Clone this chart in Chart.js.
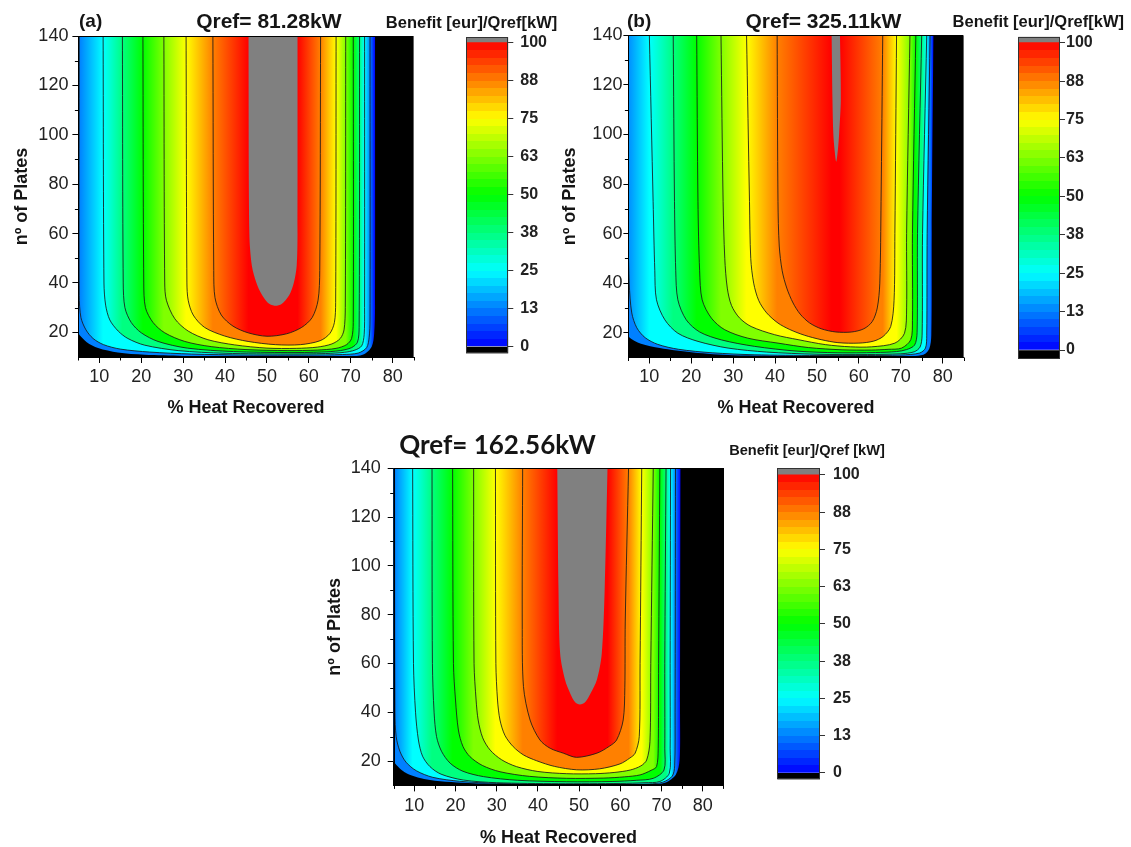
<!DOCTYPE html>
<html><head><meta charset="utf-8">
<script src="https://cdn.jsdelivr.net/npm/chart.js@4.4.0/dist/chart.umd.min.js"></script>
<style>
html,body{margin:0;padding:0;background:#fff;}
body{width:1131px;height:847px;overflow:hidden;position:relative;font-family:"Liberation Sans",Arial,sans-serif;}
canvas{position:absolute;}
.t{position:absolute;font-weight:bold;color:#151515;white-space:nowrap;line-height:1;}
.c{transform:translateX(-50%);}
</style></head><body>
<canvas id="ca" width="420" height="420" style="left:0;top:0"></canvas>
<canvas id="cb" width="420" height="420" style="left:550px;top:0"></canvas>
<canvas id="cc" width="420" height="430" style="left:315px;top:427px"></canvas>
<canvas id="ka" width="120" height="370" style="left:456px;top:0"></canvas>
<canvas id="kb" width="123" height="370" style="left:1008px;top:0"></canvas>
<canvas id="kc" width="120" height="370" style="left:767px;top:427px"></canvas>
<div class="t" style="left:79px;top:10.7px;font-size:19px">(a)</div>
<div class="t c" style="left:268.8px;top:9.7px;font-size:21px">Qref= 81.28kW</div>
<div class="t c" style="left:471.5px;top:13.6px;font-size:16.5px">Benefit [eur]/Qref[kW]</div>
<div class="t" style="left:627px;top:10.7px;font-size:19px">(b)</div>
<div class="t c" style="left:823.4px;top:9.7px;font-size:21px">Qref= 325.11kW</div>
<div class="t c" style="left:1038.3px;top:12.5px;font-size:16.5px">Benefit [eur]/Qref[kW]</div>
<div class="t c" style="left:497.5px;top:431.3px;font-size:26px;font-family:Lato,'Liberation Sans',sans-serif">Qref= 162.56kW</div>
<div class="t c" style="left:807px;top:442.8px;font-size:14.6px">Benefit [eur]/Qref [kW]</div>
<script>
// ---------------- data ----------------
const LEVELS = [0, 12.5, 25, 37.5, 50, 62.5, 75, 87.5, 100];
const COLORBAR_TICKS = [0, 12.5, 25, 37.5, 50, 62.5, 75, 87.5, 100];
const X_RANGE = [5, 85];
const Y_RANGE = [10, 140];
const X_LABEL = '% Heat Recovered';
const Y_LABEL = 'nº of Plates';

// contour polygons [% heat recovered, nº of plates], one per level of LEVELS
const contourA = [
 [[1,140],[1,30],[5,19.5],[7,16],[9.7,13.6],[14.4,11.8],[20.8,10.9],[30,10.45],[45,10.2],[60,10.2],[69.8,10.3],[73,11],[75,14.2],[75.6,19.6],[75.8,30],[75.8,140]],
 [[5.2,140],[5.2,35],[5.6,26],[6.8,21],[8.5,17.5],[11,15],[15,13.2],[22,12],[32,11.2],[45,10.8],[60,10.8],[68,11],[71.8,11.6],[73.8,13.8],[74.4,18],[74.6,25],[74.6,140]],
 [[10.9,140],[11.1,40],[11.5,31],[12.5,25],[14.5,20.5],[16.8,17.5],[20.8,14.8],[28.8,12.6],[40,11.5],[55,11.2],[64,11.4],[68.5,11.9],[71,12.8],[72.6,14.5],[73.2,19],[73.3,30],[73.3,140]],
 [[15.5,140],[15.7,40],[16.1,30],[17.6,24],[20,19.8],[24,16.3],[31,13.6],[42,12.2],[55,11.8],[63,12],[67.5,12.6],[70.2,13.8],[71.6,16],[72,22],[72.1,140]],
 [[20.4,140],[20.6,40],[21,30],[22.8,24],[25.6,19.8],[30.4,16.3],[36.7,14.2],[45,13],[55,12.6],[62,12.8],[66.5,13.5],[69,15],[70.2,17.5],[70.6,24],[70.6,140]],
 [[25.4,140],[25.6,40],[26,33],[28,25.5],[31.2,20.5],[35.9,17],[42.3,14.9],[50,13.6],[57,13.5],[62,14],[65.5,15.3],[67.5,17.5],[68.4,21],[68.7,30],[68.8,140]],
 [[30.7,140],[30.9,40],[31.2,33],[32.4,27],[35.1,22],[39.9,18.5],[45.5,16.3],[52,15],[58,15],[62.7,16.6],[65,19.5],[66.1,24],[66.4,32],[66.5,140]],
 [[37.1,140],[37.3,45],[37.6,34],[39.1,27],[41.9,22.5],[45.5,19.8],[50,18.4],[54.7,19.4],[58.3,22],[60.8,26],[62.2,33],[62.6,45],[62.8,140]],
 [[45.6,140],[45.8,60],[46.4,47],[47.5,40],[48.7,35.5],[50.2,32],[51.8,30.8],[53.5,31.5],[55.3,35],[56.4,40],[57.1,47],[57.3,60],[57.3,140]]
];
const contourB = [
 [[0,140],[0,30],[5,18.5],[8,15.5],[12.5,13.8],[20.5,12],[30,10.9],[45,10.45],[60,10.4],[70,10.5],[75.4,11.1],[76.8,13.5],[77.3,19],[77.4,60],[77.8,140]],
 [[4.4,140],[4.8,73],[5.2,40],[5.8,28],[7,22],[9,18],[12,15.3],[17,13.3],[25,11.9],[35,11.1],[50,10.8],[62,10.8],[70,11],[74.5,11.8],[75.9,13.8],[76.2,19],[76.3,60],[77,140]],
 [[10,140],[10.9,73],[11.3,45],[11.7,33.3],[13.7,25.2],[16.8,19.8],[21.6,16.5],[28.8,13.8],[38,12.2],[50,11.3],[62,11.2],[70,11.5],[73.2,12.3],[74.6,14.2],[75.1,19],[75.2,60],[76.2,140]],
 [[15.7,140],[16,73],[16.3,45],[16.8,33.3],[18.8,25.2],[22,20.3],[27.2,17.1],[35.1,14.5],[45,12.6],[55,11.9],[64,12],[69,12.4],[71.4,13.2],[73.3,15],[73.9,20],[74,60],[75,140]],
 [[21.3,140],[21.6,73],[22,45],[22.6,33.3],[24.8,25.9],[28,21.2],[33.5,17.8],[40.7,15.8],[48,14],[56,13.1],[63,13],[67,13.3],[70.2,13.8],[72.4,17.2],[72.8,25],[72.8,60],[73.6,140]],
 [[27.1,140],[27.6,73],[28,50],[28.6,38],[29.6,31],[31.5,26],[34.3,22.5],[39.9,19.2],[45.5,17.2],[52,15.2],[58,14.3],[63,14.3],[68.6,15.8],[70.9,19.8],[71.4,30],[71.4,60],[72.2,140]],
 [[33.2,140],[33.9,73],[34.2,50],[34.9,40],[36.1,33],[38,28],[40.7,23.9],[43.5,21.3],[47,19],[51,17.2],[55,16],[60,15.8],[63.5,16.6],[65.8,18.5],[67.6,22.5],[68.4,33],[68.6,60],[69,140]],
 [[40.5,140],[40.7,73],[41,55],[41.7,45],[42.8,38],[44.3,32],[46,27.5],[48.2,24],[51,21.6],[54.5,20.3],[58.3,20.3],[61.2,21.6],[63.2,24.5],[64.4,30],[65,40],[65.3,73],[65.7,140]],
 [[53.5,140],[53.7,114],[53.9,100.5],[54.2,93.8],[54.6,89],[55,93.8],[55.3,100.5],[55.7,114],[55.5,140]]
];
const contourC = [
 [[1,140],[1,30],[5,19.7],[8.1,15],[13.8,12.2],[24.3,10.9],[35,10.4],[50,10.2],[62,10.25],[67.2,10.35],[71,11.2],[73.5,14.5],[74.4,20.4],[74.5,40],[74.6,140]],
 [[5.2,140],[5.3,40],[5.6,30],[6.5,24],[8,19.5],[10.5,16],[14.5,13.3],[21,11.7],[30,10.8],[45,10.45],[60,10.5],[67,10.6],[70.3,11.3],[72.6,13.8],[73.2,18],[73.3,40],[73.4,140]],
 [[9.6,140],[9.8,60],[10.3,40],[11,28.6],[12,22],[13.8,17.7],[16.5,14.6],[21.9,12.2],[30,11.1],[45,10.7],[60,10.8],[66,11.1],[69.6,11.6],[71.9,15],[72.1,25],[72.1,60],[72.2,140]],
 [[14.3,140],[14.4,60],[14.8,40],[15.4,30],[16.6,24],[18.7,19.1],[21.8,15.8],[26.8,13.6],[35,12.1],[47,11.5],[58,11.6],[64,12.1],[68,12.9],[70.6,16.3],[70.8,25],[70.8,60],[71.1,140]],
 [[19.3,140],[19.5,60],[20,45],[20.7,32.7],[21.8,26],[23.5,21.8],[26.5,18.2],[30.8,15.6],[38,13.7],[47,12.9],[56,13],[61,13.5],[64.8,14.3],[67.5,16.2],[68.8,17.7],[69.2,25],[69.3,60],[69.6,140]],
 [[24.4,140],[24.5,60],[25,45],[25.5,36.8],[26.6,29.5],[28.4,24.5],[31.2,20.5],[34.8,17.7],[40,15.7],[47,14.8],[54,14.8],[58.5,15.3],[62.4,16.3],[65,18],[66.4,20.4],[67.2,28],[67.4,60],[68,140]],
 [[29.7,140],[29.8,60],[30.2,45],[30.8,36.8],[32,30.5],[34,25.9],[36.5,22.5],[39.7,20.1],[44,17.8],[49.4,16.4],[55,16.8],[59.9,18.8],[62.3,21.2],[63.6,23.2],[64.6,30],[64.8,60],[65.2,140]],
 [[36.3,140],[36.2,77],[36.5,50.5],[38.1,36.8],[40.5,28.6],[43,25.2],[46.2,23.2],[49.4,21.5],[54.3,23.2],[57.3,26],[59.1,28.6],[60.7,36.8],[61.1,50],[61.2,77],[62,140]],
 [[44.7,140],[45,90],[45.4,64.1],[46.6,53.2],[47.9,47.5],[49,44.2],[50.2,43.2],[51.5,44.2],[52.7,47.5],[54.3,53.2],[55.5,64.1],[56.2,90],[56.9,140]]
];

// ---------------- style ----------------
const FONT = "'Liberation Sans', Arial, sans-serif";
Chart.defaults.font.family = FONT;
const RAINBOW = [[0,[0,0,255]],[25,[0,255,255]],[50,[0,255,0]],[75,[255,255,0]],[100,[255,0,0]]];
const OVER_COLOR = '#808080', UNDER_COLOR = '#000000';
function colorAt(v){
  v = Math.max(0, Math.min(100, v));
  for (let i = 0; i < RAINBOW.length - 1; i++) {
    const [a, ca] = RAINBOW[i], [b, cb] = RAINBOW[i+1];
    if (v <= b) {
      const t = (v - a) / (b - a);
      const c = ca.map((x, k) => Math.round(x + (cb[k] - x) * t));
      return `rgb(${c[0]},${c[1]},${c[2]})`;
    }
  }
  return 'rgb(255,0,0)';
}
function bandGradient(chart, cur, next, lv, lvNext){
  const {ctx, chartArea, scales} = chart;
  if (!chartArea || !scales.x) return 'rgba(0,0,0,0)';
  const xs = [cur[0][0], next[0][0], next[next.length-1][0], cur[cur.length-1][0]];
  const px = xs.map(v => scales.x.getPixelForValue(v));
  const span = px[3] - px[0];
  const g = ctx.createLinearGradient(px[0], 0, px[3], 0);
  const s1 = Math.min(1, Math.max(0, (px[1]-px[0])/span));
  const s2 = Math.min(1, Math.max(s1, (px[2]-px[0])/span));
  const c0 = colorAt(lv), c1 = colorAt(lvNext);
  g.addColorStop(0, c0); g.addColorStop(s1, c1); g.addColorStop(s2, c1); g.addColorStop(1, c0);
  return g;
}
const blackBg = { id:'blackBg', beforeDatasetsDraw(chart){ const {ctx, chartArea:a} = chart; ctx.save(); ctx.fillStyle = UNDER_COLOR; ctx.fillRect(a.left, a.top, a.width, a.height); ctx.restore(); } };
const frame = { id:'frame', afterDatasetsDraw(chart, args, opts){ const {ctx, chartArea:a} = chart; ctx.save(); ctx.strokeStyle = opts.color || '#000'; ctx.lineWidth = 1; ctx.strokeRect(Math.round(a.left)+0.5, Math.round(a.top)+0.5, Math.round(a.width)-1, Math.round(a.height)-1); ctx.restore(); } };
// short minor ticks, placed through the scales
const minorTicks = { id:'minorTicks', afterDraw(chart){
  const {ctx, chartArea:a, scales:{x, y}} = chart;
  ctx.save(); ctx.strokeStyle = '#000'; ctx.lineWidth = 1; ctx.beginPath();
  x.ticks.forEach(t => { if (t.value % 10 !== 0) { const p = Math.round(x.getPixelForValue(t.value)) + 0.5; ctx.moveTo(p, a.bottom); ctx.lineTo(p, a.bottom + 3.5); } });
  y.ticks.forEach(t => { if (t.value % 20 !== 0 && t.value !== Y_RANGE[0]) { const p = Math.round(y.getPixelForValue(t.value)) + 0.5; ctx.moveTo(a.left, p); ctx.lineTo(a.left - 3.5, p); } });
  ctx.stroke(); ctx.restore();
} };

function makeContour(id, contours, L){
  const n = contours.length;
  const datasets = contours.map((pts, i) => {
    const top = i === n - 1;
    const lined = !(i === 0 || top);
    return {
      data: pts.map(p => ({x: p[0], y: p[1]})),
      fill: 'shape', tension: 0.3,
      pointRadius: 0, pointHoverRadius: 0,
      borderWidth: 1,
      borderColor: lined ? 'rgba(25,25,25,0.85)' : 'rgba(0,0,0,0)',
      backgroundColor: top ? OVER_COLOR : (ctx) => bandGradient(ctx.chart, pts, contours[i+1], LEVELS[i], LEVELS[i+1]),
      order: n - i
    };
  });
  const tickFont = {family: FONT, size: 18};
  const titleFont = {family: FONT, size: 18, weight: 'bold'};
  new Chart(document.getElementById(id), {
    type: 'line',
    data: {datasets},
    options: {
      responsive: false, animation: false, events: [],
      layout: {padding: {left: 0, top: L.top, right: L.right, bottom: 0}},
      plugins: {legend: {display: false}, tooltip: {enabled: false}, frame: {color: '#000'}},
      scales: {
        x: {type: 'linear', min: X_RANGE[0], max: X_RANGE[1],
            afterFit: s => { s.height = L.xH; },
            ticks: {stepSize: 5, autoSkip: false, maxRotation: 0, color: '#222', font: tickFont, padding: L.xPad,
                    callback: v => (v % 10 === 0 ? String(v) : '')},
            grid: {drawOnChartArea: false, drawTicks: true, tickLength: 6,
                   tickColor: c => (c.tick && c.tick.value % 10 !== 0) ? 'rgba(0,0,0,0)' : '#000'},
            border: {display: true, color: '#000', width: 1},
            title: {display: true, text: X_LABEL, color: '#151515', font: titleFont, padding: {top: 0, bottom: L.xTitlePad}}},
        y: {type: 'linear', min: Y_RANGE[0], max: Y_RANGE[1],
            afterFit: s => { s.width = L.yW; },
            ticks: {stepSize: 10, autoSkip: false, color: '#222', font: tickFont, padding: L.yPad,
                    callback: v => (v % 20 === 0 ? String(v) : '')},
            grid: {drawOnChartArea: false, drawTicks: true, tickLength: L.yTick,
                   tickColor: c => (c.tick && c.tick.value % 20 !== 0) ? 'rgba(0,0,0,0)' : '#000'},
            border: {display: true, color: '#000', width: 1},
            title: {display: true, text: Y_LABEL, color: '#151515', font: titleFont, padding: {top: L.yTitlePad, bottom: 0}}}
      }
    },
    plugins: [blackBg, frame, minorTicks]
  });
}

function barGradient(chart){
  const {ctx, chartArea, scales} = chart;
  if (!chartArea || !scales.y) return 'rgba(0,0,0,0)';
  const y0 = scales.y.getPixelForValue(0), y1 = scales.y.getPixelForValue(100);
  const g = ctx.createLinearGradient(0, y0, 0, y1);
  const N = 40;
  for (let k = 0; k < N; k++) { const c = colorAt((k + 0.5) * 100 / N); g.addColorStop(k / N, c); g.addColorStop((k + 1) / N, c); }
  return g;
}
function makeColorbar(id, L){
  const base = {grouped: false, barPercentage: 1, categoryPercentage: 1, borderWidth: 0};
  new Chart(document.getElementById(id), {
    type: 'bar',
    data: {labels: [''], datasets: [
      Object.assign({data: [[L.ext[0], COLORBAR_TICKS[0]]], backgroundColor: UNDER_COLOR}, base),
      Object.assign({data: [[COLORBAR_TICKS[0], COLORBAR_TICKS[COLORBAR_TICKS.length-1]]], backgroundColor: (c) => barGradient(c.chart)}, base),
      Object.assign({data: [[COLORBAR_TICKS[COLORBAR_TICKS.length-1], L.ext[1]]], backgroundColor: OVER_COLOR}, base)
    ]},
    options: {
      responsive: false, animation: false, events: [],
      layout: {padding: {left: L.left, top: L.top, right: 0, bottom: L.bottom}},
      plugins: {legend: {display: false}, tooltip: {enabled: false}, frame: {color: '#333'}},
      scales: {
        x: {display: false},
        y: {position: 'right', min: L.ext[0], max: L.ext[1],
            afterBuildTicks: a => { a.ticks = COLORBAR_TICKS.map(v => ({value: v})); },
            afterFit: a => { a.width = L.axisW; },
            ticks: {color: '#222', font: {family: FONT, size: 16, weight: 'bold'}, padding: L.pad,
                    callback: v => String(Math.round(v))},
            grid: {drawOnChartArea: false, drawTicks: true, tickLength: 5, tickColor: '#333'},
            border: {display: false}}
      }
    },
    plugins: [frame]
  });
}

makeContour('ca', contourA, {top: 36, right: 6.4, xH: 63, yW: 78.4, xPad: 3, yPad: 4, yTick: 6, xTitlePad: 1.2, yTitlePad: 10.9});
makeContour('cb', contourB, {top: 35.3, right: 6.4, xH: 62.5, yW: 78.4, xPad: 3, yPad: 1, yTick: 5, xTitlePad: 0.9, yTitlePad: 9.2});
makeContour('cc', contourC, {top: 41.3, right: 11.7, xH: 71.6, yW: 78.7, xPad: 3.5, yPad: 7, yTick: 6, xTitlePad: 8.2, yTitlePad: 9.2});
makeColorbar('ka', {left: 10, top: 37.3, bottom: 13, axisW: 67.7, pad: 7, ext: [-2.28, 101.76]});
makeColorbar('kb', {left: 10.3, top: 36.7, bottom: 11.7, axisW: 71, pad: 1, ext: [-2.7, 101.95]});
makeColorbar('kc', {left: 10.3, top: 41.3, bottom: 10.3, axisW: 67, pad: 8, ext: [-2.2, 102.2]});
</script>
</body></html>
